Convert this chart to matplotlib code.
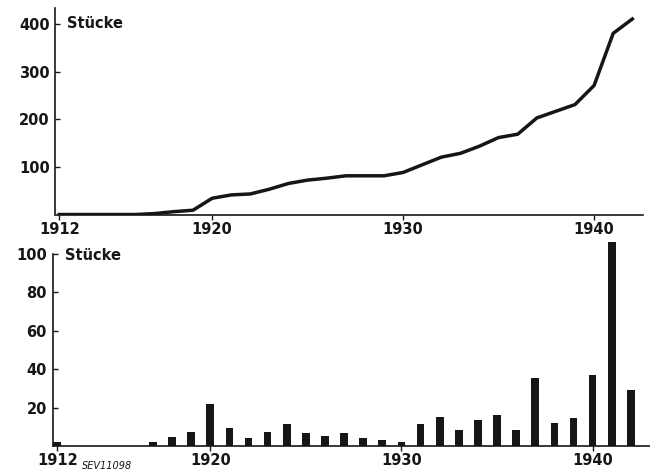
import matplotlib.pyplot as plt

# cumulative number (top) and yearly number (bottom)
line_years = list(range(1912, 1943))
line_values = [1, 1, 1, 1, 1, 3, 7, 10, 35, 42, 44, 54, 66, 73, 77, 82, 82, 82,
               89, 105, 121, 129, 144, 162, 169, 203, 217, 231, 271, 380, 410]

bar_years = [1912] + list(range(1917, 1943))
bar_values = [2, 2, 4.7, 7.5, 21.8, 9.3, 4.3, 7.2, 11.2, 6.9, 5, 6.7, 4.1, 3.3, 2,
              11.6, 15.2, 8.4, 13.3, 16, 8.1, 35.5, 12.2, 14.8, 37.2, 106, 29]

top_yticks = [100, 200, 300, 400]
bottom_yticks = [20, 40, 60, 80, 100]
xticks = [1912, 1920, 1930, 1940]
unit = "Stücke"

ink = "#161616"
plt.rcParams['font.family'] = ['DejaVu Sans']
plt.rcParams['font.weight'] = 'bold'

fig = plt.figure(figsize=(6.5, 4.73), dpi=100)

ax1 = fig.add_axes([55.5 / 650, 1 - 215 / 473, (643 - 55.5) / 650, (215 - 8) / 473])
ax2 = fig.add_axes([52.5 / 650, 1 - 446 / 473, (650 - 52.5) / 650, (446 - 238.6) / 473])

ax1.plot(line_years, line_values, color=ink, lw=2.5, solid_joinstyle='round')
ax1.set_xlim(1911.8, 1942.56)
ax1.set_ylim(0, 433)

ax2.bar(bar_years, bar_values, width=0.4, color=ink, clip_on=False)
ax2.set_xlim(1911.75, 1943.0)
ax2.set_ylim(0, 108)
ax2.spines['left'].set_bounds(0, 100)

for ax, yt in ((ax1, top_yticks), (ax2, bottom_yticks)):
    for s in ('top', 'right'):
        ax.spines[s].set_visible(False)
    for s in ('left', 'bottom'):
        ax.spines[s].set_color(ink)
        ax.spines[s].set_linewidth(1.2)
    ax.set_yticks(yt)
    ax.set_xticks(xticks)
    ax.set_xticklabels([str(x) for x in xticks])
    ax.tick_params(axis='y', direction='in', length=3.5, width=1, pad=4,
                   labelsize=10.5, colors=ink)
    ax.tick_params(axis='x', direction='out', length=3.5, width=1, pad=1.5,
                   labelsize=10.5, colors=ink)

ax1.text(67 / 650, 1 - 24 / 473, unit, transform=fig.transFigure,
         fontsize=10.5, fontweight='bold', color=ink, va='center', ha='left')
ax2.text(65 / 650, 1 - 256 / 473, unit, transform=fig.transFigure,
         fontsize=10.5, fontweight='bold', color=ink, va='center', ha='left')
fig.text(82 / 650, 1 - 466 / 473, "SEV11098", fontsize=7, style='italic',
         fontweight='normal', color=ink, va='center', ha='left')

fig.savefig("out.png", dpi=100, facecolor='white')
